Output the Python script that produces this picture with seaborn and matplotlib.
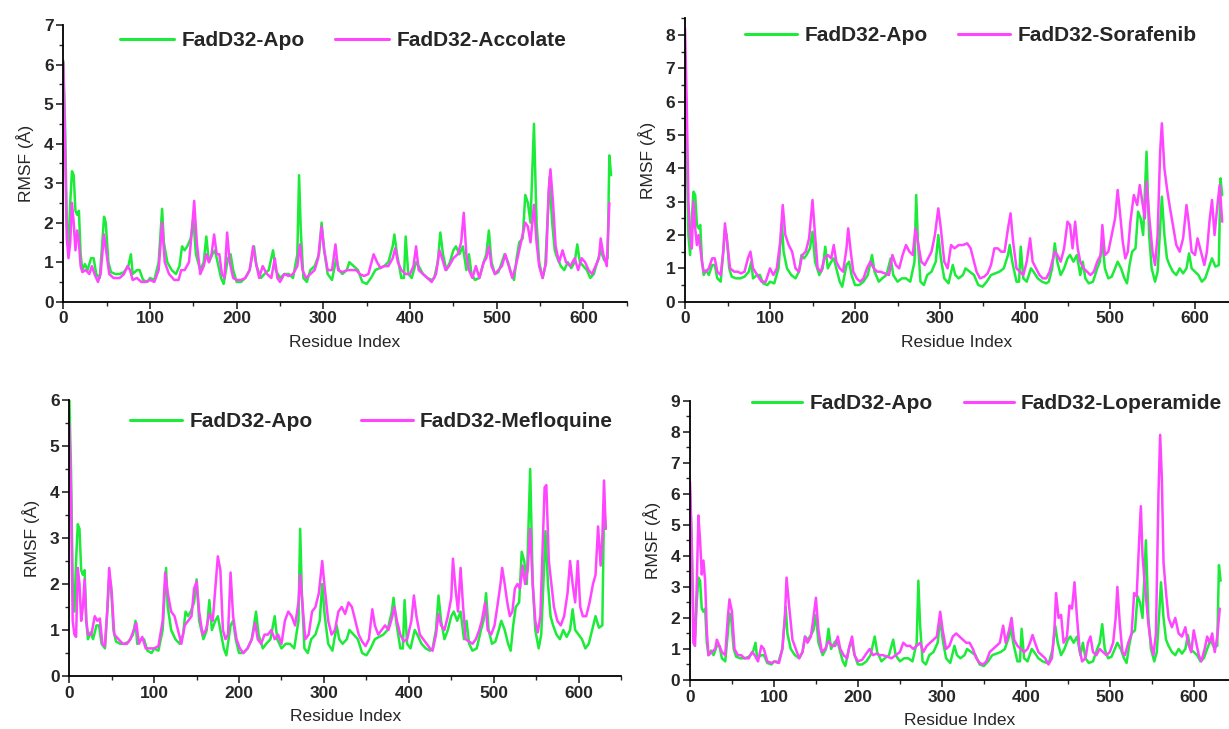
import matplotlib
matplotlib.use("Agg")
import matplotlib.pyplot as plt
import seaborn as sns
from matplotlib.ticker import MultipleLocator

# ---------------- data ----------------
apo_res = [0, 2, 4, 6, 8, 10, 12, 14, 16, 18, 20, 22, 25, 28, 32, 35, 38, 42, 45, 47, 49, 52, 55, 60, 65, 70,
           75, 78, 80, 85, 88, 92, 97, 100, 105, 110, 114, 116, 120, 125, 130, 134, 137, 140, 143, 147, 150,
           153, 158, 162, 165, 168, 172, 175, 178, 182, 185, 190, 193, 196, 200, 205, 210, 215, 220, 223, 228,
           232, 237, 242, 245, 250, 255, 260, 265, 270, 272, 274, 277, 281, 285, 290, 295, 298, 301, 305, 310,
           315, 318, 322, 327, 330, 335, 340, 345, 350, 355, 360, 365, 370, 375, 380, 382, 385, 390, 393, 395,
           398, 402, 407, 410, 415, 420, 425, 428, 432, 435, 438, 442, 446, 450, 453, 457, 461, 465, 468, 471,
           475, 480, 485, 488, 491, 494, 498, 502, 506, 509, 513, 517, 520, 523, 526, 530, 533, 536, 539, 543,
           546, 549, 553, 556, 559, 561, 564, 567, 570, 574, 578, 582, 586, 590, 593, 596, 600, 604, 608, 612,
           616, 620, 624, 628, 630, 632]
apo_rmsf = [6.1, 4.5, 2.0, 1.4, 2.5, 3.3, 3.2, 2.3, 2.2, 2.3, 1.2, 0.8, 0.95, 0.8, 1.1, 1.1, 0.7, 0.6, 1.5, 2.15,
            2.0, 1.0, 0.75, 0.7, 0.7, 0.75, 0.9, 1.2, 0.7, 0.8, 0.8, 0.55, 0.5, 0.6, 0.55, 1.0, 2.35, 1.5, 1.0,
            0.8, 0.7, 0.9, 1.4, 1.3, 1.4, 1.6, 2.1, 1.2, 0.8, 1.0, 1.65, 1.0, 1.2, 1.3, 1.0, 0.6, 0.45, 1.1, 1.2,
            0.8, 0.5, 0.5, 0.6, 0.8, 1.4, 0.9, 0.6, 0.7, 0.8, 1.3, 0.8, 0.6, 0.7, 0.7, 0.6, 1.2, 3.2, 1.8, 0.6,
            0.5, 0.8, 0.9, 1.2, 2.0, 1.3, 0.7, 0.55, 1.1, 0.8, 0.7, 0.8, 1.0, 0.9, 0.8, 0.5, 0.45, 0.6, 0.8, 0.85,
            0.9, 1.0, 1.4, 1.7, 1.2, 0.6, 0.6, 1.65, 0.7, 0.6, 1.0, 0.9, 0.7, 0.6, 0.55, 0.6, 1.0, 1.75, 1.2, 0.8,
            1.0, 1.3, 1.4, 1.2, 1.4, 0.8, 1.2, 0.7, 0.55, 0.6, 1.0, 1.2, 1.8, 1.0, 0.7, 0.75, 1.0, 1.2, 1.0, 0.7,
            0.55, 1.1, 1.5, 1.6, 2.7, 2.5, 2.0, 4.5, 2.0, 1.0, 0.6, 0.9, 2.2, 3.15, 2.0, 1.3, 1.1, 0.9, 0.8, 1.0,
            0.85, 1.0, 1.45, 1.0, 0.9, 0.8, 0.6, 0.7, 1.0, 1.3, 1.05, 1.1, 3.7, 3.2]

acc_res = [0, 2, 4, 6, 8, 10, 12, 14, 16, 18, 20, 22, 26, 30, 33, 36, 40, 43, 47, 50, 53, 58, 65, 70, 74, 77, 80,
           85, 90, 95, 100, 105, 110, 114, 117, 122, 128, 133, 136, 140, 145, 148, 151, 154, 158, 162, 165, 168,
           171, 174, 177, 180, 183, 186, 189, 192, 196, 200, 205, 210, 215, 219, 222, 226, 230, 235, 240, 244,
           247, 250, 255, 260, 265, 270, 273, 276, 280, 285, 290, 294, 298, 301, 305, 310, 314, 317, 322, 328,
           333, 338, 342, 347, 352, 358, 362, 366, 370, 375, 380, 383, 386, 390, 395, 400, 404, 407, 410, 415,
           420, 425, 430, 434, 437, 441, 445, 450, 455, 459, 462, 465, 468, 472, 476, 480, 485, 488, 491, 494,
           498, 502, 506, 510, 514, 518, 522, 526, 530, 533, 536, 539, 543, 546, 549, 553, 557, 560, 562, 565,
           568, 572, 576, 580, 585, 590, 594, 598, 602, 606, 610, 614, 618, 620, 623, 627, 630]
acc_rmsf = [6.05, 4.0, 1.6, 1.1, 1.5, 2.5, 2.0, 1.3, 1.8, 1.5, 0.9, 0.75, 0.8, 0.7, 0.9, 0.7, 0.5, 0.7, 1.7, 1.2,
            0.7, 0.6, 0.6, 0.7, 0.9, 0.8, 0.55, 0.6, 0.5, 0.5, 0.55, 0.5, 0.8, 2.0, 1.0, 0.7, 0.55, 0.55, 0.8,
            0.8, 1.0, 1.7, 2.55, 1.5, 0.7, 0.9, 1.2, 1.0, 1.2, 1.7, 1.2, 1.2, 0.7, 0.6, 1.75, 1.0, 0.6, 0.55,
            0.55, 0.6, 0.8, 1.4, 1.0, 0.6, 0.9, 0.7, 0.6, 1.1, 0.6, 0.5, 0.7, 0.65, 0.7, 0.9, 1.45, 0.8, 0.6,
            0.7, 0.8, 1.1, 1.9, 1.3, 0.8, 0.8, 1.45, 0.8, 0.75, 0.8, 0.8, 0.8, 0.7, 0.65, 0.7, 1.2, 1.0, 0.85,
            0.9, 0.9, 1.1, 1.35, 1.0, 0.8, 0.7, 0.7, 0.9, 1.4, 0.8, 0.7, 0.6, 0.5, 0.7, 1.3, 1.1, 0.8, 0.9, 1.1,
            1.2, 1.5, 2.25, 1.2, 0.8, 0.6, 0.9, 0.6, 1.0, 1.1, 1.4, 0.9, 0.7, 0.8, 0.9, 1.2, 0.9, 0.6, 0.9, 1.3,
            1.7, 2.0, 1.9, 1.5, 2.45, 1.5, 0.9, 0.6, 1.0, 2.8, 3.35, 2.5, 1.4, 1.0, 1.3, 1.0, 0.9, 1.1, 0.8, 1.1,
            1.0, 0.8, 0.7, 0.9, 1.1, 1.6, 1.2, 0.9, 2.5]

sor_res = [0, 2, 4, 6, 8, 10, 12, 14, 16, 18, 20, 22, 25, 28, 32, 35, 38, 42, 45, 47, 50, 53, 58, 62, 66, 70, 74,
           77, 80, 85, 90, 95, 100, 104, 108, 112, 115, 118, 122, 126, 130, 134, 138, 142, 146, 150, 153, 156,
           160, 164, 168, 172, 175, 178, 182, 186, 190, 192, 195, 198, 202, 206, 210, 214, 218, 222, 226, 230,
           235, 240, 244, 248, 252, 256, 260, 264, 268, 271, 274, 278, 282, 286, 290, 294, 298, 301, 305, 309,
           313, 317, 322, 327, 332, 336, 339, 343, 347, 352, 356, 360, 364, 368, 372, 376, 380, 383, 386, 390,
           394, 398, 402, 406, 409, 413, 417, 421, 425, 429, 432, 435, 438, 442, 446, 450, 453, 456, 459, 462,
           465, 469, 473, 477, 481, 485, 489, 491, 494, 498, 502, 506, 509, 512, 515, 518, 521, 524, 528, 532,
           535, 538, 541, 543, 546, 550, 553, 556, 559, 561, 564, 567, 570, 574, 578, 582, 586, 590, 593, 596,
           600, 603, 607, 611, 614, 617, 620, 623, 626, 629, 632]
sor_rmsf = [8.2, 6.0, 3.0, 2.0, 1.6, 3.0, 2.2, 1.7, 2.0, 1.6, 1.2, 0.9, 0.9, 1.0, 1.3, 1.3, 0.9, 0.8, 1.5, 2.35,
            1.7, 1.0, 0.9, 0.9, 0.85, 0.9, 1.3, 1.5, 1.0, 0.8, 0.6, 0.6, 1.0, 0.8, 1.0, 1.8, 2.9, 2.0, 1.7, 1.5,
            1.0, 0.9, 1.4, 1.5, 1.9, 3.05, 2.0, 1.0, 0.9, 1.3, 1.4, 1.3, 1.7, 1.2, 1.0, 0.9, 1.6, 2.2, 1.5, 0.9,
            0.7, 0.6, 0.7, 1.0, 1.2, 1.0, 0.9, 0.9, 0.85, 0.8, 1.4, 1.1, 1.0, 1.4, 1.7, 1.5, 1.4, 2.2, 1.8, 1.2,
            1.1, 1.3, 1.5, 2.0, 2.8, 2.2, 1.2, 1.0, 1.7, 1.6, 1.7, 1.7, 1.75, 1.6, 1.3, 0.9, 0.7, 0.75, 0.85,
            1.1, 1.6, 1.6, 1.5, 1.5, 2.2, 2.65, 1.8, 1.0, 0.9, 0.8, 1.2, 1.9, 1.2, 1.0, 0.8, 0.7, 0.7, 0.9, 1.2,
            1.5, 1.4, 1.2, 1.6, 2.4, 2.3, 1.6, 2.4, 1.6, 1.2, 1.0, 0.9, 0.8, 0.9, 1.2, 1.4, 2.3, 1.4, 1.5, 2.0,
            2.5, 3.35, 2.6, 1.8, 1.3, 1.5, 2.4, 3.2, 2.9, 3.5, 3.0, 2.5, 3.6, 2.6, 1.5, 1.1, 2.0, 4.5, 5.35, 4.0,
            3.4, 2.9, 2.3, 1.7, 1.5, 1.9, 2.9, 2.3, 1.5, 1.4, 1.9, 1.5, 1.1, 1.5, 2.4, 3.05, 2.0, 2.8, 3.5, 2.4]

mef_res = [0, 2, 4, 6, 8, 10, 12, 14, 16, 18, 20, 22, 26, 30, 33, 36, 39, 42, 45, 47, 50, 53, 58, 63, 68, 72, 76,
           79, 82, 86, 90, 95, 100, 105, 110, 113, 116, 120, 124, 128, 132, 136, 140, 144, 147, 150, 153, 157,
           161, 165, 169, 172, 175, 178, 181, 184, 187, 190, 193, 197, 201, 205, 210, 215, 219, 222, 226, 230,
           234, 238, 242, 246, 250, 254, 258, 262, 266, 270, 272, 275, 278, 282, 286, 290, 294, 298, 301, 305,
           309, 313, 317, 321, 325, 329, 333, 337, 341, 345, 349, 353, 357, 360, 364, 368, 372, 376, 380, 383,
           386, 390, 394, 398, 403, 406, 409, 413, 417, 421, 425, 428, 432, 435, 438, 442, 446, 450, 452, 455,
           458, 461, 464, 467, 471, 475, 479, 483, 486, 490, 493, 497, 501, 505, 508, 510, 513, 516, 519, 522,
           525, 528, 531, 534, 537, 540, 543, 546, 549, 552, 555, 558, 560, 562, 565, 568, 571, 575, 579, 583,
           587, 590, 593, 596, 599, 602, 605, 609, 613, 617, 620, 623, 626, 628, 630, 632]
mef_rmsf = [5.5, 4.0, 1.2, 0.9, 0.85, 2.35, 2.0, 1.2, 1.5, 2.1, 1.2, 0.9, 0.9, 1.3, 1.2, 1.25, 0.7, 0.65, 1.5, 2.35,
            1.8, 0.9, 0.8, 0.7, 0.7, 0.8, 1.0, 1.15, 0.7, 0.85, 0.6, 0.6, 0.6, 0.65, 1.2, 2.25, 1.8, 1.4, 1.3,
            1.0, 0.7, 1.1, 1.2, 1.3, 1.9, 2.05, 1.4, 0.9, 1.0, 1.35, 1.2, 1.9, 2.6, 2.3, 1.0, 0.8, 0.9, 2.25,
            1.3, 0.8, 0.6, 0.5, 0.6, 0.8, 1.15, 0.8, 0.7, 0.9, 0.9, 1.0, 0.8, 0.9, 0.7, 1.2, 1.4, 1.3, 1.1, 1.6,
            2.2, 1.5, 0.8, 0.9, 1.4, 1.5, 1.8, 2.5, 1.9, 1.2, 0.9, 1.0, 1.4, 1.5, 1.35, 1.6, 1.5, 1.2, 0.9, 0.75,
            0.65, 0.8, 1.45, 1.1, 0.9, 1.0, 1.1, 1.0, 1.25, 1.5, 1.2, 0.9, 0.75, 0.8, 1.2, 1.75, 1.3, 0.9, 0.8,
            0.7, 0.6, 0.55, 0.9, 1.35, 1.1, 1.0, 1.3, 1.7, 2.55, 1.9, 1.4, 2.35, 1.5, 0.8, 0.75, 0.7, 0.8, 1.0,
            1.2, 1.6, 1.0, 0.9, 1.1, 1.6, 2.0, 2.35, 2.0, 1.6, 1.3, 1.4, 1.9, 2.0, 1.9, 2.4, 2.0, 2.3, 3.2, 2.0,
            1.2, 0.95, 1.3, 3.0, 4.1, 4.15, 2.5, 2.0, 1.5, 1.2, 1.1, 1.3, 1.8, 2.5, 2.0, 1.6, 2.5, 1.5, 1.3, 1.3,
            1.6, 2.0, 2.2, 3.25, 2.4, 3.0, 4.25, 3.2]

lop_res = [0, 2, 4, 6, 8, 10, 12, 14, 16, 18, 20, 22, 26, 30, 32, 35, 38, 42, 45, 47, 50, 53, 57, 61, 65, 70, 74,
           77, 81, 85, 88, 92, 97, 102, 106, 110, 113, 115, 118, 122, 126, 130, 134, 137, 140, 144, 147, 150,
           153, 157, 161, 165, 169, 173, 176, 179, 183, 187, 190, 193, 196, 200, 205, 210, 214, 218, 222, 226,
           230, 235, 240, 245, 250, 254, 258, 262, 266, 270, 274, 278, 282, 286, 290, 294, 298, 301, 305, 309,
           313, 317, 321, 325, 329, 333, 337, 341, 345, 349, 353, 357, 361, 365, 369, 373, 376, 380, 383, 386,
           390, 394, 398, 402, 405, 408, 411, 415, 419, 423, 427, 431, 434, 436, 439, 442, 445, 449, 452, 455,
           458, 461, 464, 467, 471, 474, 477, 480, 484, 488, 492, 496, 500, 504, 507, 509, 512, 515, 518, 522,
           526, 529, 532, 535, 537, 539, 542, 546, 549, 552, 555, 558, 560, 562, 564, 567, 570, 574, 578, 582,
           586, 590, 593, 597, 600, 603, 606, 609, 613, 616, 619, 622, 625, 628, 631]
lop_rmsf = [6.4, 4.5, 1.2, 1.1, 3.0, 5.3, 4.5, 3.4, 3.85, 3.2, 1.6, 0.8, 0.9, 1.0, 1.3, 1.1, 0.9, 0.8, 2.0, 2.6,
            2.2, 1.0, 0.8, 0.8, 0.7, 0.7, 0.9, 0.8, 0.6, 1.1, 1.0, 0.6, 0.55, 0.6, 0.55, 1.0, 2.0, 3.3, 2.4, 1.3,
            1.0, 0.7, 0.9, 1.4, 1.2, 1.4, 2.0, 2.65, 1.6, 0.9, 1.0, 1.25, 1.1, 1.1, 1.4, 1.0, 0.8, 0.7, 1.1, 1.4,
            0.8, 0.6, 0.65, 0.85, 1.0, 0.8, 0.85, 0.8, 0.8, 0.75, 0.7, 0.8, 0.9, 1.2, 1.1, 1.1, 1.0, 1.1, 1.2,
            0.9, 1.1, 1.2, 1.3, 1.4, 2.2, 1.6, 1.0, 1.1, 1.4, 1.5, 1.4, 1.3, 1.2, 1.2, 1.0, 0.7, 0.55, 0.5, 0.6,
            0.9, 1.0, 1.1, 1.2, 1.75, 1.2, 1.6, 2.0, 1.3, 1.1, 1.0, 0.9, 1.0, 1.2, 1.45, 1.2, 0.9, 0.8, 0.7, 0.5,
            0.7, 1.6, 2.8, 2.0, 2.1, 1.2, 1.4, 2.4, 2.3, 3.15, 2.0, 1.0, 0.6, 0.7, 1.2, 1.4, 0.9, 0.8, 1.0, 0.9,
            0.8, 0.9, 1.2, 2.0, 3.0, 1.8, 0.9, 0.8, 1.2, 1.5, 2.8, 2.7, 4.5, 5.6, 4.0, 3.0, 1.8, 1.2, 0.8, 1.5,
            6.0, 7.9, 6.5, 3.8, 2.8, 2.0, 1.7, 2.0, 1.5, 1.4, 1.7, 1.2, 0.9, 1.6, 1.2, 0.8, 0.6, 1.0, 1.4, 1.2,
            1.5, 0.9, 1.4, 2.3]

apo_label = "FadD32-Apo"
ligand_labels = ["FadD32-Accolate", "FadD32-Sorafenib", "FadD32-Mefloquine", "FadD32-Loperamide"]
ligand_res = [acc_res, sor_res, mef_res, lop_res]
ligand_rmsf = [acc_rmsf, sor_rmsf, mef_rmsf, lop_rmsf]
y_limits = [7, 8.5, 6, 9]
x_limits = [650, 640, 650, 642]
x_label = "Residue Index"
y_label = "RMSF (Å)"

# ---------------- style ----------------
sns.set_style("ticks")
plt.rcParams["font.family"] = ["Liberation Sans", "DejaVu Sans"]

GREEN = "#1DEB3A"
MAGENTA = "#FF45FF"

W, H = 1229, 729
fig = plt.figure(figsize=(W / 100, H / 100), dpi=100)

# axes rectangles in pixels: (x0, y_bottom, x_right, y_top)
rects = [(63.3, 301.7, 626.7, 25.0),
         (685.0, 301.7, 1229.0, 18.3),
         (69.3, 676.0, 621.0, 400.0),
         (690.0, 680.0, 1229.0, 400.7)]
# legend upper-left anchors in pixels
leg_pos = [(120, 31), (745, 26), (130, 412), (752, 394)]
col_space = [1.45, 1.45, 2.3, 1.5]
handle_len = [2.6, 2.5, 2.5, 2.4]

for i in range(4):
    x0, yb, x1, yt = rects[i]
    ax = fig.add_axes([x0 / W, 1 - yb / H, (x1 - x0) / W, (yb - yt) / H])
    sns.lineplot(x=apo_res, y=apo_rmsf, ax=ax, color=GREEN, lw=1.8, label=apo_label,
                 estimator=None, sort=False)
    sns.lineplot(x=ligand_res[i], y=ligand_rmsf[i], ax=ax, color=MAGENTA, lw=1.8,
                 label=ligand_labels[i], estimator=None, sort=False)
    ax.set_xlim(0, x_limits[i])
    ax.set_ylim(0, y_limits[i])
    ax.xaxis.set_major_locator(MultipleLocator(100))
    ax.xaxis.set_minor_locator(MultipleLocator(50))
    ax.yaxis.set_major_locator(MultipleLocator(1))
    ax.yaxis.set_minor_locator(MultipleLocator(0.5))
    ax.tick_params(which="major", direction="out", length=5, width=1.2, labelsize=12.5, pad=2)
    ax.tick_params(which="minor", direction="out", length=3, width=1.0)
    for lab in ax.get_xticklabels() + ax.get_yticklabels():
        lab.set_fontweight("bold")
    ax.set_xlabel(x_label, fontsize=12.5, labelpad=6)
    ax.set_ylabel(y_label, fontsize=12.5, labelpad=7)
    for side in ["top", "right"]:
        ax.spines[side].set_visible(False)
    for side in ["left", "bottom"]:
        ax.spines[side].set_linewidth(1.3)
        ax.spines[side].set_color("black")
    lx, ly = leg_pos[i]
    leg = ax.legend(loc="upper left", bbox_to_anchor=(lx / W, 1 - ly / H), bbox_transform=fig.transFigure,
                    ncol=2, frameon=False, borderpad=0, borderaxespad=0, handlelength=handle_len[i],
                    handletextpad=0.35, columnspacing=col_space[i],
                    prop={"weight": "bold", "size": 15})
    for line in leg.get_lines():
        line.set_linewidth(2.2)

fig.savefig("out.png", dpi=100)
